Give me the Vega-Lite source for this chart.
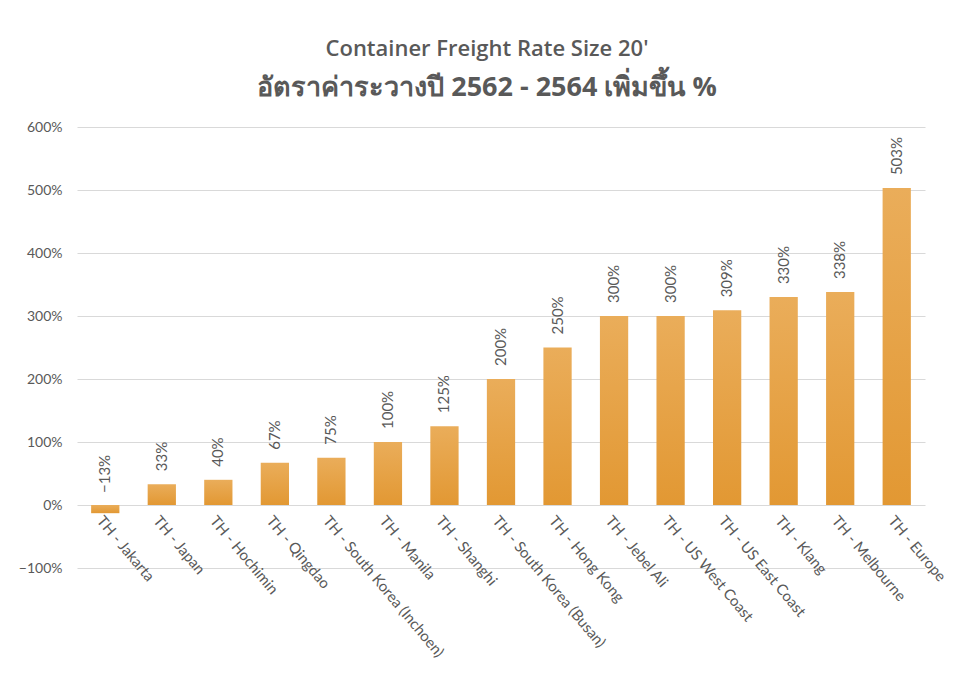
{
  "$schema": "https://vega.github.io/schema/vega-lite/v6.json",
  "autosize": "none",
  "width": 848,
  "height": 441,
  "padding": {"left": 77, "top": 127, "right": 30, "bottom": 115},
  "background": "white",
  "title": {
    "text": "Container Freight Rate  Size 20'",
    "subtitle": "อัตราค่าระวางปี 2562 - 2564 เพิ่มขึ้น %",
    "anchor": "middle",
    "dx": -14,
    "font": "Open Sans, Noto Sans, sans-serif",
    "fontSize": 22,
    "fontWeight": 600,
    "color": "#595959",
    "subtitleFont": "Open Sans, Noto Sans, sans-serif",
    "subtitleFontSize": 27,
    "subtitleFontWeight": "bold",
    "subtitleColor": "#595959",
    "subtitlePadding": 14,
    "offset": 18
  },
  "config": {
    "view": {"stroke": null},
    "font": "Lato, sans-serif",
    "axis": {
      "labelFont": "Lato, sans-serif",
      "labelFontSize": 14,
      "labelColor": "#595959",
      "domain": false,
      "ticks": false,
      "title": null
    }
  },
  "data": {
    "values": [
      {"route": "TH - Jakarta", "increase": -0.13},
      {"route": "TH - Japan", "increase": 0.33},
      {"route": "TH - Hochimin", "increase": 0.40},
      {"route": "TH - Qingdao", "increase": 0.67},
      {"route": "TH - South Korea (Inchoen)", "increase": 0.75},
      {"route": "TH - Manila", "increase": 1.00},
      {"route": "TH - Shanghi", "increase": 1.25},
      {"route": "TH - South Korea (Busan)", "increase": 2.00},
      {"route": "TH - Hong Kong", "increase": 2.50},
      {"route": "TH - Jebel Ali", "increase": 3.00},
      {"route": "TH - US West Coast", "increase": 3.00},
      {"route": "TH - US East Coast", "increase": 3.09},
      {"route": "TH - Klang", "increase": 3.30},
      {"route": "TH - Melbourne", "increase": 3.38},
      {"route": "TH - Europe", "increase": 5.03}
    ]
  },
  "encoding": {
    "x": {
      "field": "route",
      "type": "nominal",
      "sort": null,
      "scale": {"paddingInner": 0.5, "paddingOuter": 0.25},
      "axis": {
        "labelAngle": 50,
        "labelAlign": "left",
        "labelBaseline": "top",
        "labelFontSize": 15,
        "labelLimit": 400,
        "labelPadding": 8,
        "offset": -63,
        "grid": false
      }
    },
    "y": {
      "field": "increase",
      "type": "quantitative",
      "scale": {"domain": [-1, 6], "nice": false},
      "axis": {
        "format": ".0%",
        "values": [-1, 0, 1, 2, 3, 4, 5, 6],
        "labelPadding": 15,
        "grid": true,
        "gridColor": "#D9D9D9",
        "gridWidth": 1
      }
    }
  },
  "layer": [
    {
      "mark": {
        "type": "bar",
        "color": {
          "gradient": "linear",
          "x1": 0, "y1": 0, "x2": 0, "y2": 1,
          "stops": [
            {"offset": 0, "color": "#EAAD5A"},
            {"offset": 1, "color": "#E29833"}
          ]
        }
      }
    },
    {
      "transform": [{"filter": "datum.increase >= 0"}],
      "mark": {
        "type": "text",
        "angle": 270,
        "align": "left",
        "baseline": "middle",
        "dx": 13,
        "fontSize": 15,
        "font": "Lato, sans-serif",
        "color": "#595959"
      },
      "encoding": {
        "text": {"field": "increase", "type": "quantitative", "format": ".0%"}
      }
    },
    {
      "transform": [{"filter": "datum.increase < 0"}],
      "mark": {
        "type": "text",
        "angle": 270,
        "align": "left",
        "baseline": "middle",
        "dx": 12,
        "fontSize": 15,
        "font": "Lato, sans-serif",
        "color": "#595959"
      },
      "encoding": {
        "y": {"datum": 0},
        "text": {"field": "increase", "type": "quantitative", "format": ".0%"}
      }
    }
  ]
}
